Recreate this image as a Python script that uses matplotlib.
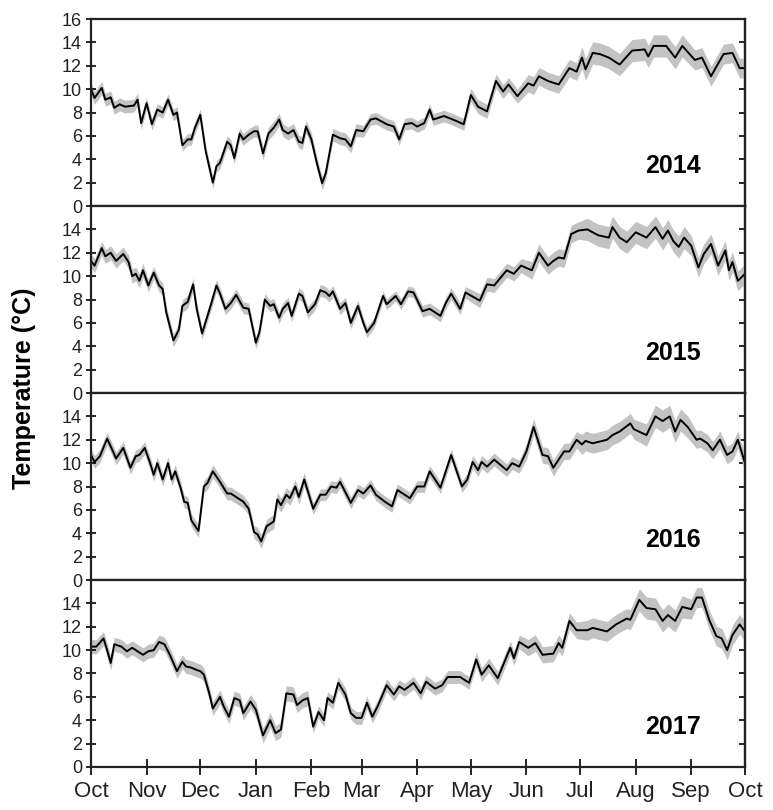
import numpy as np
import matplotlib
matplotlib.use("Agg")
import matplotlib.pyplot as plt

plt.rcParams['font.family'] = ['Liberation Sans', 'DejaVu Sans']

# days since 1 Oct
month_starts = [0, 31, 61, 92, 123, 151, 182, 212, 243, 273, 304, 335, 365]
month_labels = ['Oct', 'Nov', 'Dec', 'Jan', 'Feb', 'Mar', 'Apr', 'May', 'Jun', 'Jul', 'Aug', 'Sep', 'Oct']
years = ['2014', '2015', '2016', '2017']

days_2014 = [0, 2, 6, 8, 11, 13, 16, 19, 24, 26, 28, 31, 34, 37, 40, 43, 46, 48, 51, 54,
             56, 58, 61, 64, 68, 70, 72, 76, 78, 80, 83, 85, 88, 91, 93, 96, 99, 102, 105, 107,
             110, 113, 116, 118, 120, 123, 126, 129, 131, 135, 139, 142, 145, 148, 152, 156, 159,
             165, 169, 172, 175, 179, 182, 186, 189, 191, 197, 202, 208, 212, 216, 221, 226, 230, 233,
             238, 244, 247, 250, 255, 261, 267, 271, 274, 276, 280, 284, 289, 295, 302, 309, 311, 314,
             321, 326, 330, 337, 341, 346, 353, 358, 362, 365]
temp_2014 = [10.0, 9.25, 10.1, 9.1, 9.3, 8.4, 8.7, 8.5, 8.6, 9.1, 7.1, 8.8, 7.0, 8.25, 8.0, 9.1, 7.8, 8.0, 5.2, 5.7,
             5.7, 6.7, 7.8, 4.7, 2.0, 3.4, 3.7, 5.5, 5.2, 4.1, 6.2, 5.7, 6.1, 6.4, 6.4, 4.5, 6.2, 6.7, 7.4, 6.5,
             6.2, 6.5, 5.5, 5.4, 6.8, 5.7, 3.7, 1.95, 2.8, 6.1, 5.8, 5.7, 5.1, 6.5, 6.4, 7.4, 7.5,
             7.0, 6.8, 5.7, 7.0, 7.1, 6.8, 7.1, 8.25, 7.4, 7.7, 7.4, 7.0, 9.5, 8.5, 8.1, 10.7, 9.8, 10.4,
             9.4, 10.5, 10.3, 11.1, 10.7, 10.4, 11.8, 11.5, 12.7, 11.7, 13.1, 13.0, 12.7, 12.1, 13.3, 13.4, 12.8, 13.7,
             13.7, 12.7, 13.7, 12.5, 12.7, 11.1, 13.0, 13.1, 11.8, 11.8]

days_2015 = [0, 2, 6, 8, 11, 14, 18, 21, 23, 25, 27, 29, 32, 35, 38, 40, 42, 44, 46, 49,
             51, 54, 57, 59, 62, 65, 67, 70, 72, 75, 78, 81, 85, 88, 92, 94, 97, 100, 102, 105,
             107, 110, 112, 116, 118, 121, 125, 128, 131, 133, 135, 139, 142, 145, 149, 152, 154, 158,
             163, 165, 170, 173, 177, 180, 185, 189, 195, 198, 201, 206, 209, 217, 221, 225, 232, 236, 240, 246,
             250, 255, 258, 261, 264, 268, 272, 277, 283, 289, 291, 295, 299, 304, 310, 315, 319, 322, 325, 328,
             331, 335, 339, 342, 346, 350, 354, 356, 358, 361, 365]
temp_2015 = [11.3, 10.9, 12.4, 11.7, 12.0, 11.3, 11.9, 11.2, 10.0, 10.2, 9.6, 10.5, 9.2, 10.3, 9.2, 8.9, 6.9, 5.7, 4.5, 5.4,
             7.45, 7.8, 9.3, 7.2, 5.1, 6.6, 7.6, 9.2, 8.5, 7.2, 7.7, 8.4, 7.3, 7.2, 4.3, 5.2, 8.0, 7.45, 7.6, 6.45,
             7.2, 7.7, 6.6, 8.5, 8.3, 6.9, 7.6, 8.8, 8.6, 8.3, 8.7, 7.2, 7.7, 6.0, 7.45, 6.0, 5.2, 6.0,
             8.3, 7.6, 8.3, 7.6, 8.7, 8.6, 7.0, 7.2, 6.6, 7.7, 8.5, 7.2, 8.6, 7.9, 9.3, 9.2, 10.5, 10.2, 10.9, 10.5,
             12.0, 10.9, 11.3, 11.6, 11.5, 13.6, 13.9, 14.0, 13.5, 13.3, 14.2, 13.3, 12.9, 13.75, 13.3, 14.2, 13.2, 13.9, 13.0, 12.5,
             13.3, 12.6, 10.75, 11.9, 12.75, 10.9, 12.2, 10.5, 11.2, 9.6, 10.2]

days_2016 = [0, 2, 5, 9, 12, 14, 18, 22, 25, 27, 30, 33, 35, 37, 40, 43, 45, 47, 50, 52,
             54, 56, 60, 63, 65, 68, 72, 76, 78, 81, 85, 88, 91, 93, 95, 98, 102, 104, 106, 109,
             111, 114, 116, 119, 124, 128, 131, 134, 137, 139, 145, 149, 152, 156, 159,
             164, 168, 171, 175, 178, 182, 186, 189, 195, 201, 207, 210, 213, 216, 218, 221, 225, 232, 235, 239,
             243, 247, 252, 255, 258, 264, 267, 271, 274, 276, 280, 288, 291, 295, 301, 303, 310, 315, 319, 323,
             326, 329, 333, 338, 340, 344, 347, 351, 355, 358, 361, 365]
temp_2016 = [10.7, 10.1, 10.6, 12.1, 11.1, 10.4, 11.3, 9.6, 10.6, 10.7, 11.3, 10.0, 9.0, 10.0, 8.6, 10.0, 8.6, 9.3, 7.9, 6.7,
             6.6, 5.1, 4.2, 8.0, 8.3, 9.3, 8.4, 7.4, 7.4, 7.1, 6.7, 6.1, 4.1, 3.9, 3.3, 4.6, 5.0, 6.9, 6.4, 7.3,
             7.0, 8.0, 7.1, 8.6, 6.1, 7.3, 7.3, 8.0, 7.9, 8.4, 6.6, 7.7, 7.4, 8.1, 7.3,
             6.7, 6.3, 7.7, 7.3, 7.0, 8.0, 8.0, 9.3, 7.9, 10.7, 8.0, 8.6, 10.1, 9.4, 10.1, 9.7, 10.3, 9.4, 10.0, 9.7,
             11.0, 13.1, 10.7, 10.6, 9.6, 11.0, 11.0, 12.0, 11.6, 11.9, 11.7, 12.0, 12.4, 12.7, 13.4, 12.9, 12.4, 14.0, 13.6, 14.0,
             12.7, 13.7, 13.1, 12.0, 12.1, 11.7, 11.1, 12.0, 10.7, 11.0, 12.0, 10.0]

days_2017 = [0, 3, 7, 9, 11, 13, 17, 20, 23, 25, 29, 32, 35, 38, 41, 44, 48, 51, 53,
             56, 59, 61, 63, 66, 68, 72, 74, 77, 80, 83, 85, 89, 92, 96, 100, 103, 106, 109, 113,
             115, 118, 121, 124, 127, 130, 132, 135, 138, 142, 145, 148, 151, 154, 157, 160,
             165, 169, 172, 175, 180, 184, 187, 192, 196, 199, 206, 211, 215, 218, 222, 227, 234, 236, 239, 244,
             248, 252, 258, 261, 263, 267, 271, 277, 280, 288, 293, 299, 301, 306, 310, 315, 319, 322, 326, 330,
             335, 338, 341, 345, 349, 352, 355, 358, 362, 365]
temp_2017 = [10.3, 10.3, 11.0, 10.0, 8.9, 10.5, 10.3, 9.9, 10.2, 10.0, 9.6, 9.9, 10.0, 10.7, 10.5, 9.6, 8.2, 9.0, 8.6,
             8.5, 8.3, 8.2, 7.9, 6.3, 5.0, 6.0, 5.2, 4.3, 5.9, 5.7, 4.6, 5.6, 4.9, 2.7, 4.0, 2.9, 3.2, 6.3, 6.2,
             5.3, 5.7, 5.9, 3.45, 4.7, 4.0, 5.9, 5.5, 7.2, 6.2, 4.6, 4.2, 4.2, 5.5, 4.3, 5.2,
             7.0, 6.2, 6.9, 6.6, 7.2, 6.3, 7.3, 6.7, 7.0, 7.7, 7.7, 7.2, 9.2, 7.9, 8.7, 7.6, 10.2, 9.3, 10.7, 10.2,
             10.6, 9.6, 9.7, 10.6, 10.2, 12.5, 11.7, 11.7, 11.9, 11.6, 12.2, 12.7, 12.6, 14.3, 13.6, 13.5, 12.5, 13.0, 12.5, 13.7,
             13.5, 14.5, 14.5, 12.6, 11.2, 11.0, 10.0, 11.3, 12.2, 11.6]

# half-width of the grey band, one value per month (Oct..Sep)
spread_2014 = [0.55, 0.5, 0.5, 0.55, 0.55, 0.5, 0.5, 0.6, 0.75, 0.95, 0.95, 0.85]
spread_2015 = [0.6, 0.55, 0.5, 0.5, 0.5, 0.45, 0.5, 0.6, 0.75, 0.95, 0.95, 0.85]
spread_2016 = [0.55, 0.55, 0.55, 0.6, 0.5, 0.5, 0.5, 0.55, 0.7, 0.85, 0.95, 0.75]
spread_2017 = [0.6, 0.6, 0.6, 0.65, 0.55, 0.55, 0.55, 0.6, 0.7, 0.85, 0.95, 0.85]

series = [(days_2014, temp_2014, spread_2014),
          (days_2015, temp_2015, spread_2015),
          (days_2016, temp_2016, spread_2016),
          (days_2017, temp_2017, spread_2017)]

fig, axes = plt.subplots(4, 1, sharex=True, figsize=(7.73, 8.10), dpi=100)
fig.subplots_adjust(left=0.1177, right=0.9638, top=0.9765, bottom=0.0531, hspace=0)

for i, ax in enumerate(axes):
    d, t, s = series[i]
    d = np.array(d)
    t = np.array(t)
    mi = np.clip(np.searchsorted(month_starts, d, side='right') - 1, 0, 11)
    sd = np.array(s)[mi]
    ax.fill_between(d, t - sd, t + sd, color='#c3c3c3', lw=0)
    ax.plot(d, t, color='black', lw=1.4)

    ax.set_xlim(0, 365)
    ax.set_ylim(0, 16)
    if i == 0:
        ax.set_yticks(range(0, 17, 2))
    else:
        ax.set_yticks(range(0, 15, 2))
    ax.tick_params(axis='y', direction='inout', length=7, width=1.2, labelsize=13, pad=3,
                   labelcolor='#222222')

    sec = ax.secondary_yaxis('right')
    sec.set_yticks(range(2, 15, 2))
    sec.tick_params(direction='in', length=4, width=1.2, labelright=False)
    sec.spines['right'].set_linewidth(1.6)
    sec.spines['right'].set_color('#333333')

    for sp in ax.spines.values():
        sp.set_linewidth(1.6)
        sp.set_color('#222222')

    ax.text(325, 3.4, years[i], ha='center', va='center', fontsize=18, fontweight='bold')

    if i < 3:
        ax.tick_params(axis='x', which='both', bottom=False, labelbottom=False)

axes[-1].set_xticks(month_starts)
axes[-1].set_xticklabels(month_labels)
axes[-1].tick_params(axis='x', direction='inout', length=12, width=1.2, labelsize=16, pad=4,
                     labelcolor='#222222')

fig.text(0.031, 0.521, 'Temperature (°C)', rotation=90, ha='center', va='center',
         fontsize=18, fontweight='bold')

plt.savefig('out.png', dpi=100)
